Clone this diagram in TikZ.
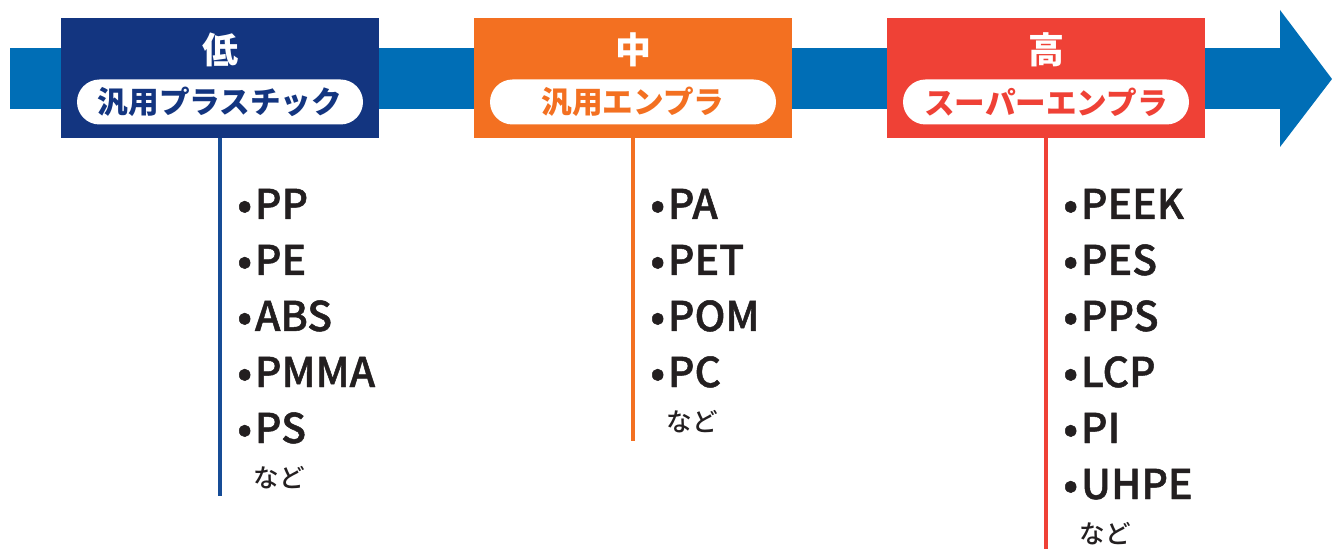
\documentclass[tikz,border=0pt]{standalone}
\usepackage{fontspec}
\setmainfont{Noto Sans CJK JP}
\newfontfamily\itemfont{Noto Sans CJK JP Medium}[FakeBold=1.2]
\newfontfamily\etcfont{Noto Sans CJK JP Medium}
\usetikzlibrary{positioning}

\definecolor{navy}{RGB}{19,53,128}
\definecolor{stemblue}{RGB}{22,76,150}
\definecolor{orng}{RGB}{243,112,33}
\definecolor{rd}{RGB}{239,65,54}
\definecolor{barblue}{RGB}{0,110,182}
\definecolor{ink}{RGB}{35,31,32}

\newcommand{\dotitem}{•\hspace{1.5pt}}

\begin{document}
\begin{tikzpicture}[x=0.5pt, y=-0.5pt,
	grade/.style={fill=#1, minimum width=159pt, minimum height=60pt, inner sep=0pt},
	title/.style={text=white, font=\fontsize{18}{18}\selectfont\bfseries, inner sep=0pt},
	pill/.style={fill=white, rounded corners=11.25pt, minimum width=143pt, minimum height=22.5pt,
		inner sep=0pt, text=#1, font=\fontsize{15.3}{15.3}\selectfont\bfseries},
	item/.style={anchor=base west, inner sep=0pt, text=ink, font=\fontsize{20.5}{20.5}\itemfont},
	etc/.style={anchor=base west, inner sep=0pt, text=ink, font=\fontsize{12.8}{12.8}\etcfont},
	stem/.style={draw=#1, line width=1.75pt}]
	\useasboundingbox (0,0) rectangle (1332,550);
	% arrow
	\fill[barblue] (10,48) rectangle (1281,109);
	\fill[barblue] (1280,10) -- (1332,79) -- (1280,147) -- cycle;
	% boxes
	\node[grade=navy] (low) at (220,78) {};
	\node[grade=orng] (mid) at (633,78) {};
	\node[grade=rd] (high) at (1046,78) {};
	\node[title] at (220,50) {低};
	\node[title] at (633,50) {中};
	\node[title] at (1046,50) {高};
	\node[pill=navy] at (220,102) {汎用プラスチック};
	\node[pill=orng] at (633,102) {汎用エンプラ};
	\node[pill=rd] at (1046,102) {スーパーエンプラ};
	% stems
	\coordinate (lowend) at (220,496);
	\coordinate (midend) at (633,441);
	\coordinate (highend) at (1046,549);
	\draw[stem=stemblue] (low.south) -- (lowend);
	\draw[stem=orng] (mid.south) -- (midend);
	\draw[stem=rd] (high.south) -- (highend);
	% lists
	\foreach \t [count=\i] in {PP,PE,ABS,PMMA,PS}
		\node[item] (low\i) at (237,163+56*\i) {\dotitem\t};
	\node[etc] (lowetc) at (253,487) {など};
	\foreach \t [count=\i] in {PA,PET,POM,PC}
		\node[item] (mid\i) at (650,163+56*\i) {\dotitem\t};
	\node[etc] (midetc) at (666,431) {など};
	\foreach \t [count=\i] in {PEEK,PES,PPS,LCP,PI,UHPE}
		\node[item] (high\i) at (1063,163+56*\i) {\dotitem\t};
	\node[etc] (highetc) at (1079,543) {など};
\end{tikzpicture}
\end{document}
